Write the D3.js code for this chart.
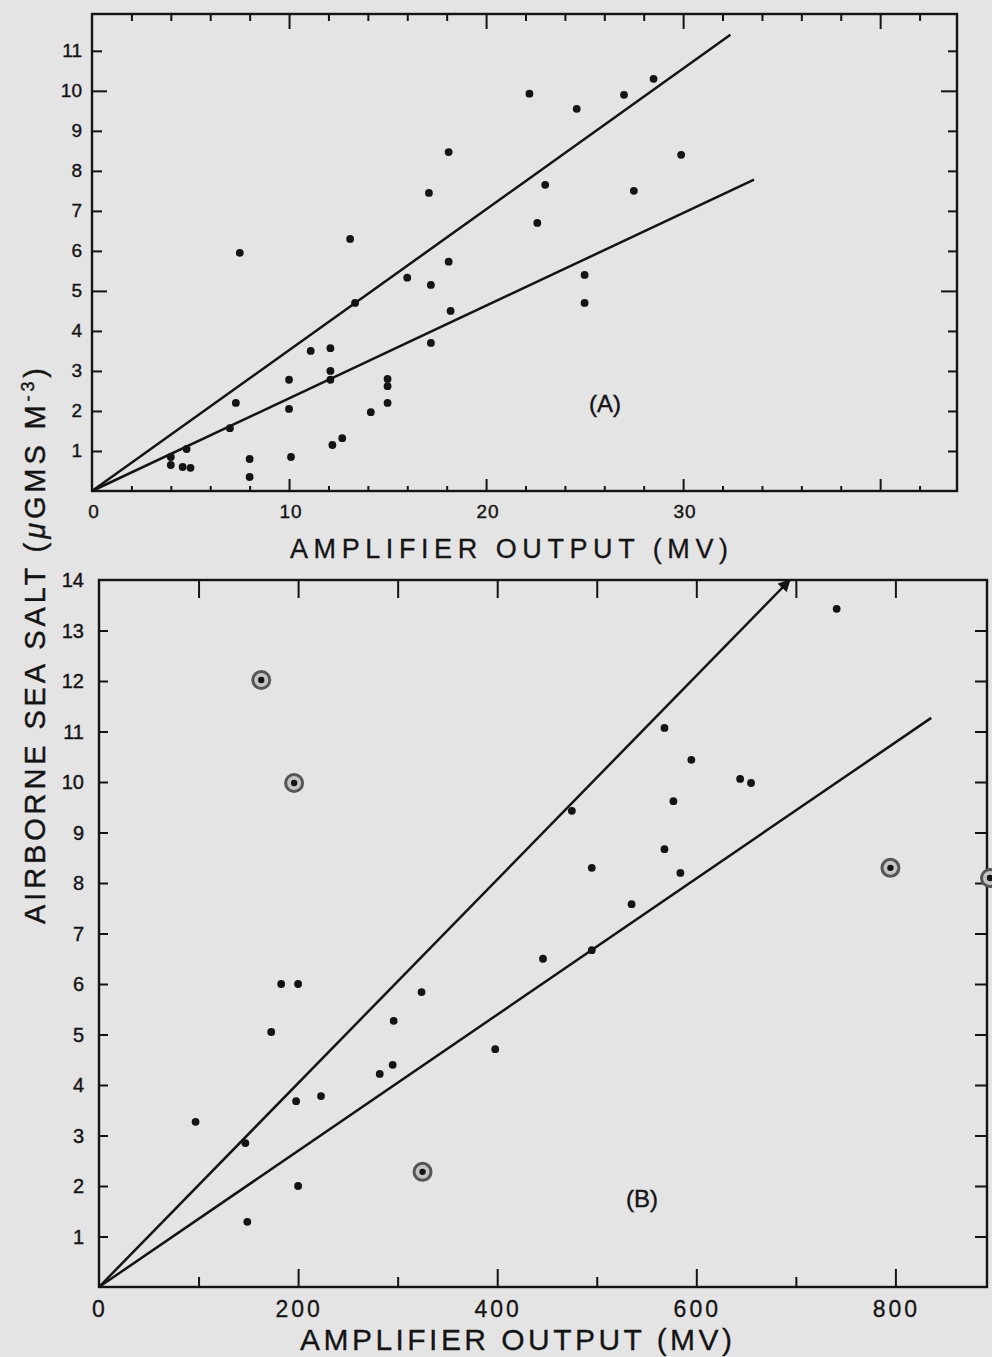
<!DOCTYPE html>
<html><head><meta charset="utf-8">
<script src="https://cdn.jsdelivr.net/npm/d3@7"></script>
<style>
body{margin:0;background:#e4e4e4}
svg{display:block;font-family:"Liberation Sans",Arial,sans-serif}
</style>
</head><body>
<svg id="c" width="992" height="1357"></svg>
<script>
// ---------- Panel A data ----------
const aPointsX = [7.5, 13.1, 17.1, 18.1, 22.2, 24.6, 27.0, 28.5, 29.9, 23.0, 27.5, 22.6, 25.0, 25.0,
  18.1, 16.0, 17.2, 18.2, 17.2, 13.35, 11.1, 12.1, 12.1, 12.1, 10.0, 10.0, 10.1, 7.3, 7.0,
  15.0, 15.0, 15.0, 14.15, 12.7, 12.2, 8.0, 8.0, 4.0, 4.0, 4.8, 5.0, 4.6];
const aPointsY = [5.95, 6.3, 7.45, 8.47, 9.93, 9.55, 9.9, 10.3, 8.4, 7.65, 7.5, 6.7, 5.4, 4.7,
  5.73, 5.33, 5.15, 4.5, 3.7, 4.7, 3.5, 3.57, 3.0, 2.78, 2.78, 2.05, 0.85, 2.2, 1.57,
  2.62, 2.8, 2.2, 1.97, 1.32, 1.15, 0.8, 0.35, 0.85, 0.65, 1.05, 0.58, 0.6];
const aLineEndX = [32.4, 33.6];
const aLineEndY = [11.4, 7.78];
const aXLabels = [0, 10, 20, 30];
const aYLabels = [1,2,3,4,5,6,7,8,9,10,11];

// ---------- Panel B data ----------
const bPointsX = [741, 568, 595, 644, 655, 577, 475, 568, 495, 584, 535, 495, 446,
  183, 200, 324, 173, 296, 398, 295, 282, 198, 223, 97, 147, 200, 149];
const bPointsY = [13.43, 11.07, 10.44, 10.06, 9.98, 9.62, 9.43, 8.67, 8.3, 8.2, 7.58, 6.67, 6.5,
  6.0, 6.0, 5.84, 5.05, 5.27, 4.71, 4.4, 4.22, 3.68, 3.78, 3.27, 2.85, 2.0, 1.29];
const bCircledX = [163, 196, 795, 325, 895];
const bCircledY = [12.02, 9.98, 8.3, 2.28, 8.1];
const bLineEndX = [694, 836];
const bLineEndY = [14, 11.27];
const bXLabels = [0, 200, 400, 600, 800];
const bYLabels = [1,2,3,4,5,6,7,8,9,10,11,12,13,14];

const ink = "#141414";
const svg = d3.select("#c");

// Scales
const xA = d3.scaleLinear().domain([0, 43.9]).range([92, 957]);
const yA = d3.scaleLinear().domain([0, 11.92]).range([491, 14]);
const xB = d3.scaleLinear().domain([0, 892]).range([99, 987]);
const yB = d3.scaleLinear().domain([0, 14]).range([1287, 580]);

function frame(g, x, y) {
  const [x0, x1] = x.range(), [y0, y1] = y.range();
  g.append("rect").attr("x", x0).attr("y", y1).attr("width", x1 - x0).attr("height", y0 - y1)
    .attr("fill", "none").attr("stroke", ink).attr("stroke-width", 2.4);
}
function styleAxis(sel) {
  sel.select(".domain").remove();
  sel.selectAll(".tick line").attr("stroke", ink).attr("stroke-width", 2);
  sel.selectAll(".tick text").remove();
}
function addAxis(g, axis, tx, ty) {
  g.append("g").attr("transform", `translate(${tx},${ty})`).call(axis).call(styleAxis);
}

// ---------- Panel A ----------
const gA = svg.append("g");
frame(gA, xA, yA);
const aMinor = d3.range(2, 44, 2).filter(v => v % 10 !== 0);
const aMajor = [10, 20, 30, 40];
const aYMinor = aYLabels.filter(v => v % 5 !== 0);
const aYMajor = aYLabels.filter(v => v % 5 === 0);
addAxis(gA, d3.axisBottom(xA).tickValues(aMinor).tickSize(-5), 0, yA(0));
addAxis(gA, d3.axisBottom(xA).tickValues(aMajor).tickSize(-12), 0, yA(0));
addAxis(gA, d3.axisTop(xA).tickValues(aMinor).tickSize(-7), 0, yA.range()[1]);
addAxis(gA, d3.axisTop(xA).tickValues(aMajor).tickSize(-15), 0, yA.range()[1]);
addAxis(gA, d3.axisLeft(yA).tickValues(aYMinor).tickSize(-10), xA(0), 0);
addAxis(gA, d3.axisLeft(yA).tickValues(aYMajor).tickSize(-15), xA(0), 0);
addAxis(gA, d3.axisRight(yA).tickValues(aYMinor).tickSize(-9), xA.range()[1], 0);
addAxis(gA, d3.axisRight(yA).tickValues(aYMajor).tickSize(-16), xA.range()[1], 0);

gA.selectAll("text.xl").data(aXLabels).join("text")
  .attr("x", d => xA(d) + 2).attr("y", 518).attr("text-anchor", "middle")
  .attr("font-size", 19).attr("letter-spacing", 1).attr("fill", ink)
  .attr("stroke", ink).attr("stroke-width", 0.4).text(d => d);
gA.selectAll("text.yl").data(aYLabels).join("text")
  .attr("x", 82).attr("y", d => yA(d) + 6).attr("text-anchor", "end")
  .attr("font-size", 19).attr("fill", ink)
  .attr("stroke", ink).attr("stroke-width", 0.4).text(d => d);

gA.selectAll("line.fit").data(aLineEndX).join("line")
  .attr("x1", xA(0)).attr("y1", yA(0))
  .attr("x2", d => xA(d)).attr("y2", (d, i) => yA(aLineEndY[i]))
  .attr("stroke", ink).attr("stroke-width", 2.5);

gA.selectAll("circle.pt").data(aPointsX).join("circle")
  .attr("cx", d => xA(d)).attr("cy", (d, i) => yA(aPointsY[i])).attr("r", 3.9).attr("fill", ink);

gA.append("text").attr("x", 605).attr("y", 412).attr("text-anchor", "middle")
  .attr("font-size", 24).attr("fill", ink).attr("stroke", ink).attr("stroke-width", 0.4).text("(A)");

gA.append("text").attr("x", 509).attr("y", 558).attr("text-anchor", "middle")
  .attr("font-size", 27).attr("fill", ink).attr("stroke", ink).attr("stroke-width", 0.3)
  .attr("textLength", 438).attr("lengthAdjust", "spacing").text("AMPLIFIER OUTPUT (MV)");

// ---------- Panel B ----------
const gB = svg.append("g");
frame(gB, xB, yB);
const bMinor = [100, 300, 500, 700];
const bMajor = [200, 400, 600, 800];
addAxis(gB, d3.axisBottom(xB).tickValues(bMinor).tickSize(-10), 0, yB(0));
addAxis(gB, d3.axisBottom(xB).tickValues(bMajor).tickSize(-18), 0, yB(0));
addAxis(gB, d3.axisTop(xB).tickValues(bMinor.concat(bMajor)).tickSize(-18), 0, yB.range()[1]);
addAxis(gB, d3.axisLeft(yB).tickValues(bYLabels.slice(0, 13)).tickSize(-9), xB(0), 0);
addAxis(gB, d3.axisRight(yB).tickValues(bYLabels.slice(0, 13)).tickSize(-12), xB.range()[1], 0);

gB.selectAll("text.xl").data(bXLabels).join("text")
  .attr("x", d => xB(d) + 1).attr("y", 1317).attr("text-anchor", "middle")
  .attr("font-size", 23).attr("letter-spacing", 3).attr("fill", ink)
  .attr("stroke", ink).attr("stroke-width", 0.3).text(d => d);
gB.selectAll("text.yl").data(bYLabels).join("text")
  .attr("x", 84).attr("y", d => yB(d) + 7).attr("text-anchor", "end")
  .attr("font-size", 20).attr("fill", ink)
  .attr("stroke", ink).attr("stroke-width", 0.4).text(d => d);

svg.append("defs").append("marker").attr("id", "arr")
  .attr("viewBox", "0 0 10 10").attr("refX", 9).attr("refY", 5)
  .attr("markerWidth", 5).attr("markerHeight", 5).attr("orient", "auto")
  .append("path").attr("d", "M0,0 L10,5 L0,10 z").attr("fill", ink);

gB.selectAll("line.fit").data(bLineEndX).join("line")
  .attr("x1", xB(0)).attr("y1", yB(0))
  .attr("x2", d => xB(d)).attr("y2", (d, i) => yB(bLineEndY[i]))
  .attr("stroke", ink).attr("stroke-width", 2.5)
  .attr("marker-end", (d, i) => i === 0 ? "url(#arr)" : null);

gB.selectAll("circle.pt").data(bPointsX).join("circle")
  .attr("cx", d => xB(d)).attr("cy", (d, i) => yB(bPointsY[i])).attr("r", 3.9).attr("fill", ink);

const circ = gB.selectAll("g.circ").data(bCircledX).join("g")
  .attr("transform", (d, i) => `translate(${xB(d)},${yB(bCircledY[i])})`);
circ.append("circle").attr("r", 8.5).attr("fill", "#c4c4c4").attr("stroke", "#555").attr("stroke-width", 3);
circ.append("circle").attr("r", 3.2).attr("fill", ink);

gB.append("text").attr("x", 642).attr("y", 1207).attr("text-anchor", "middle")
  .attr("font-size", 24).attr("fill", ink).attr("stroke", ink).attr("stroke-width", 0.4).text("(B)");

gB.append("text").attr("x", 516).attr("y", 1350).attr("text-anchor", "middle")
  .attr("font-size", 30).attr("fill", ink).attr("stroke", ink).attr("stroke-width", 0.3)
  .attr("textLength", 432).attr("lengthAdjust", "spacing").text("AMPLIFIER OUTPUT (MV)");

// ---------- shared Y title ----------
const yt = svg.append("text").attr("transform", "translate(45,646) rotate(-90)")
  .attr("text-anchor", "middle").attr("font-size", 29).attr("fill", ink)
  .attr("stroke", ink).attr("stroke-width", 0.4)
  .attr("textLength", 556).attr("lengthAdjust", "spacing");
yt.append("tspan").text("AIRBORNE SEA SALT (");
yt.append("tspan").attr("font-style", "italic").text("μ");
yt.append("tspan").text("GMS M");
yt.append("tspan").attr("font-size", 18).attr("dy", -11).text("-3");
yt.append("tspan").attr("dy", 11).text(")");
</script>
</body></html>
